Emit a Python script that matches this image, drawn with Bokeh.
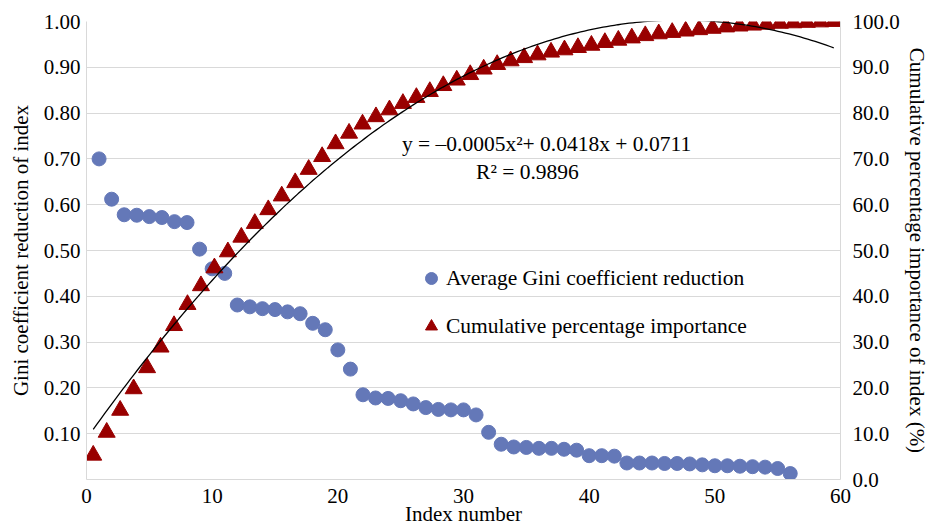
from bokeh.plotting import figure
from bokeh.models import (Range1d, LinearAxis, FixedTicker, NumeralTickFormatter,
                          Legend, LegendItem, Label)
from bokeh.embed import file_html
from bokeh.resources import INLINE
import numpy as np

# ---------------- data ----------------
index = list(range(1, 57))

gini_reduction = [
    0.700, 0.612, 0.578, 0.577, 0.574, 0.572, 0.563, 0.561, 0.503, 0.460,
    0.450, 0.381, 0.377, 0.373, 0.371, 0.366, 0.362, 0.341, 0.327, 0.283,
    0.241, 0.185, 0.178, 0.177, 0.172, 0.165, 0.157, 0.153, 0.152, 0.152,
    0.141, 0.103, 0.077, 0.071, 0.070, 0.068, 0.068, 0.066, 0.064, 0.052,
    0.052, 0.051, 0.036, 0.036, 0.036, 0.035, 0.035, 0.034, 0.032, 0.030,
    0.030, 0.029, 0.028, 0.027, 0.024, 0.013,
]

cumulative_pct = [
    5.3, 10.3, 15.1, 19.8, 24.4, 28.9, 33.6, 38.2, 42.3, 46.2,
    49.7, 52.9, 55.9, 58.9, 61.9, 64.8, 67.7, 70.5, 73.3, 75.6,
    77.6, 79.2, 80.7, 82.1, 83.4, 84.7, 86.0, 87.2, 88.4, 89.6,
    90.6, 91.4, 92.1, 92.7, 93.3, 93.8, 94.3, 94.8, 95.4, 95.9,
    96.4, 96.9, 97.3, 97.6, 97.9, 98.2, 98.5, 98.8, 99.0, 99.2,
    99.4, 99.6, 99.7, 99.8, 99.9, 100.0,
]

x_ticks = [0, 10, 20, 30, 40, 50, 60]
left_ticks = [0.1, 0.2, 0.3, 0.4, 0.5, 0.6, 0.7, 0.8, 0.9, 1.0]
right_ticks = [0, 10, 20, 30, 40, 50, 60, 70, 80, 90, 100]

equation_text = "y = \u20130.0005x\u00b2+ 0.0418x + 0.0711"
r2_text = "R\u00b2 = 0.9896"
right_title = "Cumulative percentage importance of index (%)"

# ---------------- styling ----------------
FONT = "Liberation Serif"
FS = "21px"
FS_TXT = "21.5px"
GRID = "#d9d9d9"
BLUE = "#6478b8"
RED = "#990000"

p = figure(width=932, height=530,
           x_range=Range1d(0, 60), y_range=Range1d(0, 1),
           output_backend="svg", toolbar_location=None,
           min_border_left=86, min_border_right=92,
           min_border_top=21, min_border_bottom=51)
p.extra_x_ranges = {"cat": Range1d(0.5, 56.5)}
p.extra_y_ranges = {"pct": Range1d(0, 100)}

p.outline_line_color = None
p.background_fill_color = "white"
p.border_fill_color = "white"
p.xgrid.visible = False
p.ygrid.ticker = FixedTicker(ticks=left_ticks)
p.ygrid.grid_line_color = GRID
p.ygrid.grid_line_width = 1

def style_axis(ax):
    ax.axis_line_color = GRID
    ax.major_tick_line_color = None
    ax.minor_tick_line_color = None
    ax.major_tick_out = 0
    ax.major_tick_in = 0
    ax.minor_tick_out = 0
    ax.minor_tick_in = 0
    ax.major_label_text_font = FONT
    ax.major_label_text_font_size = FS
    ax.major_label_text_color = "black"
    ax.axis_label_text_font = FONT
    ax.axis_label_text_font_size = FS
    ax.axis_label_text_font_style = "normal"
    ax.axis_label_text_color = "black"

xa = p.xaxis[0]
xa.ticker = FixedTicker(ticks=x_ticks)
xa.axis_label = "Index number"
style_axis(xa)
xa.major_label_standoff = 9
xa.axis_label_standoff = -4

ya = p.yaxis[0]
ya.ticker = FixedTicker(ticks=left_ticks)
ya.formatter = NumeralTickFormatter(format="0.00")
ya.axis_label = "Gini coefficient reduction of index"
style_axis(ya)
ya.major_label_standoff = 6
ya.axis_label_standoff = 8

ra = LinearAxis(y_range_name="pct", ticker=FixedTicker(ticks=right_ticks),
                formatter=NumeralTickFormatter(format="0.0"),
                axis_label=right_title)
style_axis(ra)
ra.major_label_standoff = 12
ra.axis_label_standoff = 2
p.add_layout(ra, "right")

# ---------------- glyphs ----------------
circles = p.scatter(index, gini_reduction, marker="circle", size=14,
                    fill_color=BLUE, line_color=BLUE)

tris = p.scatter(index, cumulative_pct, marker="triangle", size=17,
                 fill_color=RED, line_color=RED,
                 x_range_name="cat", y_range_name="pct")

coef = np.polyfit(np.array(index, dtype=float), np.array(cumulative_pct) / 100.0, 2)
xs = np.linspace(1, 56, 200)
ys = np.polyval(coef, xs)
p.line(xs, ys, x_range_name="cat", line_color="black", line_width=1.3)

# ---------------- legend ----------------
legend = Legend(items=[
    LegendItem(label="Average Gini coefficient reduction", renderers=[circles]),
    LegendItem(label="Cumulative percentage importance", renderers=[tris]),
], location=(330, 138), glyph_width=30, glyph_height=30, label_standoff=-14,
    spacing=18, padding=0, margin=0, border_line_color=None,
    background_fill_alpha=0, label_text_font=FONT, label_text_font_size=FS_TXT,
    label_text_color="black")
p.add_layout(legend)

# ---------------- trend-line equation ----------------
p.add_layout(Label(x=25.1, y=0.733, text=equation_text, text_font=FONT,
                   text_font_size=FS_TXT, text_baseline="middle", text_align="left",
                   text_color="black"))
p.add_layout(Label(x=31.0, y=0.672, text=r2_text, text_font=FONT,
                   text_font_size=FS_TXT, text_baseline="middle", text_align="left",
                   text_color="black"))

open("out.html", "w").write(file_html(p, INLINE))
